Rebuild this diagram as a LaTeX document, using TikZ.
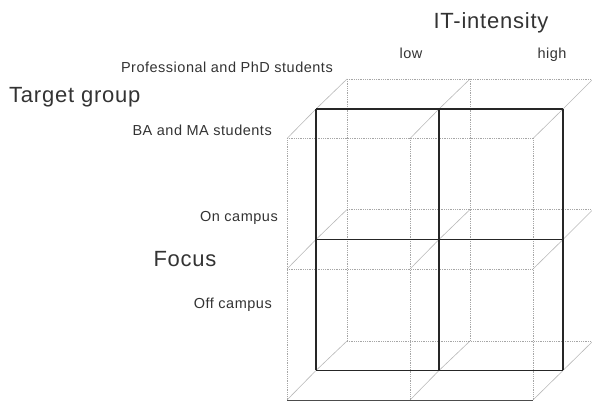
\documentclass[tikz,border=0pt]{standalone}
\usepackage{fontspec}
\setmainfont{Liberation Sans}[LetterSpace = 3.5]
\usetikzlibrary{positioning}

\begin{document}
\begin{tikzpicture}[x = 1pt, y = -1pt]
\tikzstyle{frontStyle} = [draw = black!85, line width = 1.2pt]
\tikzstyle{gridStyle} = [draw = black!35, densely dotted, line width = 0.8pt]
\tikzstyle{bottomStyle} = [draw = black!70, line width = 0.9pt]
\tikzstyle{depthStyle} = [draw = black!28, line width = 0.6pt]
\tikzstyle{smallLabel} = [text = black!80, font = \fontsize{14.5}{16}\selectfont, inner sep = 0pt]
\tikzstyle{bigLabel} = [text = black!80, font = \fontsize{22}{24}\selectfont, inner sep = 0pt]
\useasboundingbox (0,0) rectangle (592,403);
% front layer (lower left)
\coordinate (a0) at (287,138.5);
\coordinate (a1) at (410,138.5);
\coordinate (a2) at (533,138.5);
\coordinate (a3) at (287,269);
\coordinate (a4) at (410,269);
\coordinate (a5) at (533,269);
\coordinate (a6) at (287,400);
\coordinate (a7) at (410,400);
\coordinate (a8) at (533,400);
% middle layer
\coordinate (b0) at (316,109);
\coordinate (b1) at (439,109);
\coordinate (b2) at (563,109);
\coordinate (b3) at (316,239.5);
\coordinate (b4) at (439,239.5);
\coordinate (b5) at (563,239.5);
\coordinate (b6) at (316,370.5);
\coordinate (b7) at (439,370.5);
\coordinate (b8) at (563,370.5);
% back layer (upper right)
\coordinate (c0) at (347,79);
\coordinate (c1) at (470,79);
\coordinate (c2) at (593,79);
\coordinate (c3) at (347,209.5);
\coordinate (c4) at (470,209.5);
\coordinate (c5) at (593,209.5);
\coordinate (c6) at (347,341);
\coordinate (c7) at (470,341);
\coordinate (c8) at (593,341);
% depth edges
\draw[depthStyle] (a0) -- (b0) -- (c0);
\draw[depthStyle] (a1) -- (b1) -- (c1);
\draw[depthStyle] (a2) -- (b2) -- (c2);
\draw[depthStyle] (a3) -- (b3) -- (c3);
\draw[depthStyle] (a4) -- (b4) -- (c4);
\draw[depthStyle] (a5) -- (b5) -- (c5);
\draw[depthStyle] (a6) -- (b6) -- (c6);
\draw[depthStyle] (a7) -- (b7) -- (c7);
\draw[depthStyle] (a8) -- (b8) -- (c8);
% back grid
\draw[gridStyle] (c0) -- (c2);
\draw[gridStyle] (c3) -- (c5);
\draw[gridStyle] (c6) -- (c8);
\draw[gridStyle] (c0) -- (c6);
\draw[gridStyle] (c1) -- (c7);
\draw[gridStyle] (c2) -- (c8);
% front grid
\draw[gridStyle] (a0) -- (a2);
\draw[gridStyle] (a3) -- (a5);
\draw[bottomStyle] (a6) -- (a8);
\draw[gridStyle] (a0) -- (a6);
\draw[gridStyle] (a1) -- (a7);
\draw[gridStyle] (a2) -- (a8);
% middle grid
\draw[frontStyle] (b0) -- (b2);
\draw[frontStyle] (b3) -- (b5);
\draw[frontStyle] (b6) -- (b8);
\draw[frontStyle] (b0) -- (b6);
\draw[frontStyle] (b1) -- (b7);
\draw[frontStyle] (b2) -- (b8);
% labels
\node[bigLabel] (itIntensity) at (491,23) {IT-intensity};
\node[smallLabel] (low) at (411,53) {low};
\node[smallLabel] (high) at (552,55) {high};
\node[smallLabel, anchor = east] (phd) at (333,67) {Professional and PhD students};
\node[bigLabel, anchor = west] (targetGroup) at (9,97) {Target group};
\node[smallLabel, anchor = east] (bama) at (272,130) {BA and MA students};
\node[smallLabel, anchor = east] (onCampus) at (278,218) {On campus};
\node[bigLabel] (focus) at (185,259) {Focus};
\node[smallLabel, anchor = east] (offCampus) at (272,305) {Off campus};
\end{tikzpicture}
\end{document}
